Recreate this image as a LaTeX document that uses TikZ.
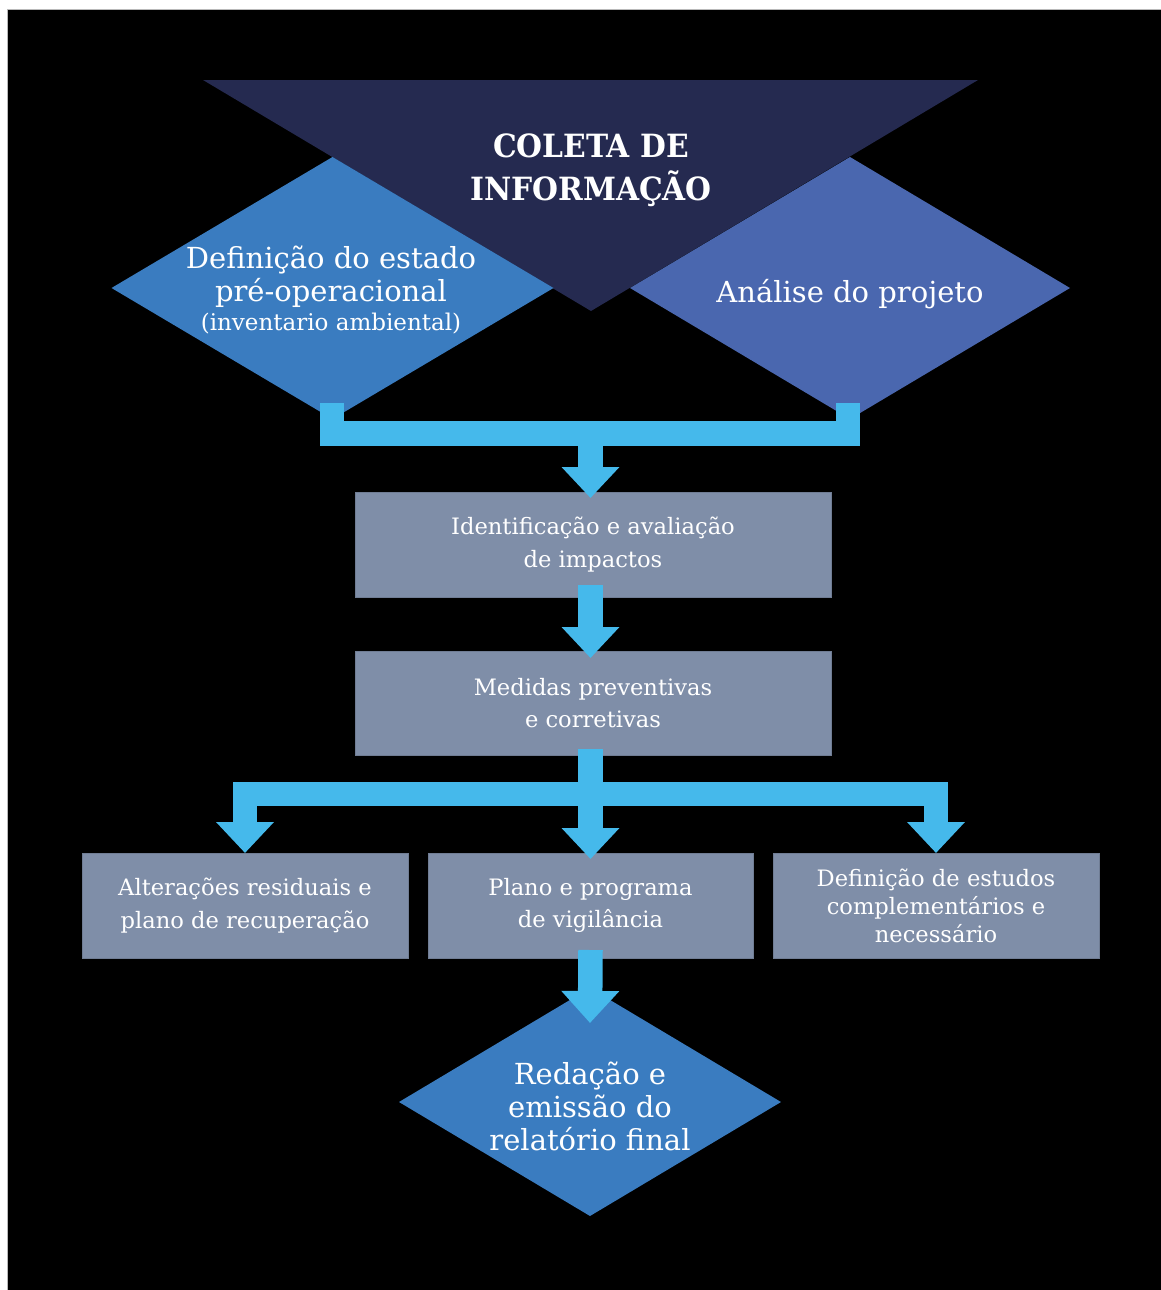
\documentclass[tikz,border=0pt]{standalone}
\usepackage{fontspec}
\setmainfont{DejaVu Serif}
\newfontfamily\titlefont[FakeStretch=0.93]{DejaVu Serif Bold}
\usetikzlibrary{arrows.meta,shapes.geometric,calc}
\definecolor{navy}{HTML}{252A50}
\definecolor{stepblue}{HTML}{3A7CC0}
\definecolor{projblue}{HTML}{4A67AF}
\definecolor{boxgray}{HTML}{7F8EA8}
\definecolor{flowcyan}{HTML}{45B9EB}

\begin{document}
\begin{tikzpicture}[x=1pt,y=-1pt,
  diam/.style={diamond, inner sep=0pt, outer sep=0pt, draw=none},
  stepbox/.style={rectangle, fill=boxgray, draw=boxgray!88!black, line width=0.8pt,
    minimum width=476pt, minimum height=105pt, inner sep=0pt, outer sep=0pt,
    text=white, align=center, font=\fontsize{22.6}{32.5}\selectfont},
  lowbox/.style={stepbox, minimum width=326pt},
  conn/.style={draw=flowcyan, line width=24.5pt, line join=miter},
  flowtip/.style={-{Triangle[length=31pt,width=56pt]}},
  dtext/.style={text=white, align=center, inner sep=0pt, font=\fontsize{29}{33}\selectfont}
]
% page and black panel
\useasboundingbox (0,0) rectangle (1161,1290);
\fill[white] (0,0) rectangle (1161,1290);
\fill[black] (7,10) rectangle (1161,1290);
\draw[gray!55, line width=1pt] (7,1290) -- (7,10) -- (1161,10);

% information gathering: inverted triangle and the two input diamonds
\fill[navy] (203,80) -- (978,80) -- (591,311) -- cycle;
\node[diam, fill=stepblue, minimum width=442pt, minimum height=262pt] (pre) at (332.5,288) {};
\node[diam, fill=projblue, minimum width=440pt, minimum height=262pt] (ana) at (850,288) {};

\node[text=white, align=center, inner sep=0pt,
      font=\titlefont\fontsize{32}{43}\selectfont] (coleta) at (591,170) {COLETA DE\\INFORMAÇÃO};
\node[dtext] (pretext) at ($(pre.center)+(-1.5,2)$)
  {Definição do estado\\pré-operacional\\[-4pt]{\fontsize{23}{26}\selectfont(inventario ambiental)}};
\node[dtext, anchor=base] (anatext) at ($(ana.center)+(0,14)$) {Análise do projeto};

% process boxes
\node[stepbox] (box1) at (593,544.5) {Identificação e avaliação\\de impactos};
\node[stepbox, minimum height=104pt] (box2) at (593,703) {Medidas preventivas\\e corretivas};
\node[lowbox] (boxA) at (245,905.5) {Alterações residuais e\\plano de recuperação};
\node[lowbox, minimum width=325pt] (boxB) at (590.5,905.5) {Plano e programa\\de vigilância};
\node[lowbox, font=\fontsize{22.6}{28}\selectfont] (boxC) at (936,905.5)
  {Definição de estudos\\complementários e\\necessário};

% final report diamond
\node[diam, fill=stepblue, minimum width=382pt, minimum height=228pt] (fin) at (590,1102) {};
\node[dtext] (fintext) at ($(fin.center)+(0,4)$) {Redação e\\emissão do\\relatório final};

% connectors
\coordinate (j1) at (590.5,433.5);
\coordinate (j2) at (590.5,794);
\draw[conn] ($(pre.south)+(-0.5,-16)$) |- (j1) -| ($(ana.south)+(-2,-16)$);
\draw[conn, flowtip] (j1) -- ($(box1.north -| j1)+(0,6)$);
\draw[conn, flowtip] ($(box1.south -| j1)+(0,-12)$) -- ($(box2.north -| j1)+(0,7)$);
\draw[conn] ($(box2.south -| j2)+(0,-6)$) -- (j2);
\draw[conn, flowtip] (j2) -| (boxA.north);
\draw[conn, flowtip] (j2) -| (boxC.north);
\draw[conn, flowtip] (j2) -- ($(boxB.north -| j2)+(0,6)$);
\draw[conn, -{Triangle[length=32pt,width=56pt]}] ($(boxB.south -| j2)+(0,-8)$) -- ($(fin.north)+(0,35)$);
\end{tikzpicture}
\end{document}
